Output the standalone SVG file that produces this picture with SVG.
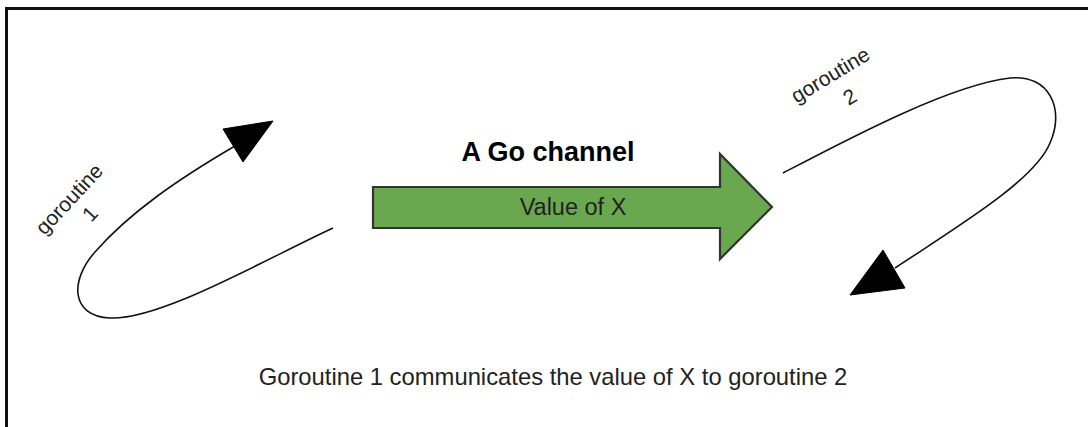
<svg xmlns="http://www.w3.org/2000/svg" width="1088" height="427" viewBox="0 0 1088 427">
<style>
.lbl{font-family:"Liberation Sans",Arial,sans-serif;fill:#222;}
.loop{fill:none;stroke:#111;stroke-width:1.6;}
.head{fill:#000;stroke:#000;stroke-width:1;stroke-linejoin:miter;}
</style>
<rect width="1088" height="427" fill="#fff"/>
<g id="frame">
<path d="M6.5,427 V8.5 H1088" fill="none" stroke="#111" stroke-width="3"/>
</g>
<g id="connectors">
<path class="loop" d="M333,228 C260,262 160,320 110,318 C70,316 70,280 95,252 C130,212 180,178 235,146"/>
<polygon class="head" points="273,121 223,129 243,162"/>
<path class="loop" d="M783,173 C850,138 950,85 1010,78 C1050,74 1065,110 1050,143 C1035,180 960,225 895,268"/>
<polygon class="head" points="850,295 883,250 905,288"/>
</g>
<g id="goroutine1">
<text class="lbl" font-size="21" text-anchor="middle" transform="translate(70,200) rotate(-47)" y="6">goroutine</text>
<text class="lbl" font-size="21" text-anchor="middle" transform="translate(90,214) rotate(-47)" y="7">1</text>
</g>
<g id="goroutine2">
<text class="lbl" font-size="21" text-anchor="middle" transform="translate(831,76) rotate(-31)" y="6">goroutine</text>
<text class="lbl" font-size="21" text-anchor="middle" transform="translate(850,97) rotate(-31)" y="7">2</text>
</g>
<g id="channel">
<polygon points="373,187 720,187 720,154 772,207 720,259 720,228 373,228" fill="#6aa84f" stroke="#333" stroke-width="2.2" stroke-linejoin="miter"/>
<text class="lbl" font-size="27" font-weight="bold" text-anchor="middle" x="548" y="161" style="fill:#000">A Go channel</text>
<text class="lbl" font-size="23.5" text-anchor="middle" x="573" y="215">Value of X</text>
</g>
<g id="caption">
<text class="lbl" font-size="23.8" text-anchor="middle" x="553" y="385">Goroutine 1 communicates the value of X to goroutine 2</text>
</g>
</svg>
